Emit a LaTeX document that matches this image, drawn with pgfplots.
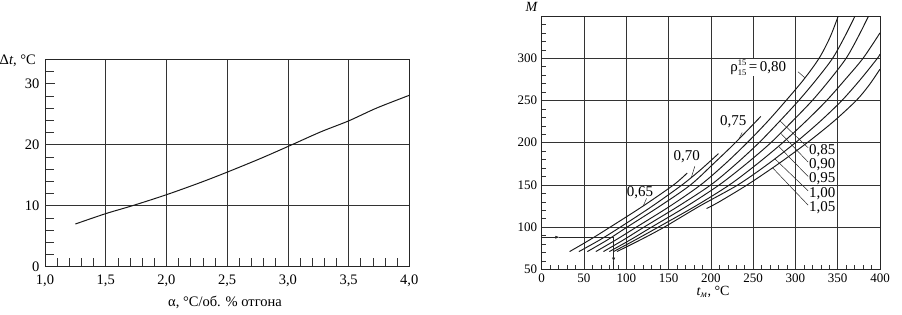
\documentclass[border=0pt]{standalone}
\usepackage{pgfplots}
\pgfplotsset{compat=1.18}
\usepackage{fontspec}
\setmainfont{Liberation Serif}
\usetikzlibrary{arrows.meta}
\begin{document}
\begin{tikzpicture}[x=1pt,y=1pt]
\useasboundingbox (0,0) rectangle (902,314);
% ---------------- left chart ----------------
\begin{axis}[
  at={(45pt,47.3pt)}, anchor=south west,
  scale only axis, width=364.3pt, height=207.4pt,
  xmin=1, xmax=4, ymin=0, ymax=34,
  xtick={1,1.5,2,2.5,3,3.5,4},
  xticklabels={{1,0},{1,5},{2,0},{2,5},{3,0},{3,5},{4,0}},
  ytick={0,10,20,30}, yticklabels={0,10,20,30},
  minor xtick={1.1,1.2,...,3.95},
  minor ytick={2,4,...,34},
  xmajorgrids,
  extra y ticks={10,20}, extra y tick labels={},
  extra y tick style={ymajorgrids=true, major tick length=0pt},
  tick pos=left, tick align=inside,
  major tick length=10pt, minor tick length=9pt,
  axis line style={black!85, line width=0.7pt},
  grid style={black!80, line width=0.6pt},
  every tick/.style={black!80, line width=0.6pt},
  ticklabel style={font=\fontsize{14.5}{16}\selectfont},
  xticklabel style={yshift=-5pt},
  yticklabel style={xshift=-2pt},
]
\addplot[black!90, line width=1pt, smooth] coordinates {
(1.25,7.0) (1.5,8.7) (1.72,10.0) (2.0,11.8) (2.28,13.8) (2.5,15.5)
(2.77,17.7) (3.0,19.7) (3.27,22.1) (3.5,23.9) (3.73,26.0) (4.0,28.1)};
\end{axis}
\node[anchor=east, font=\fontsize{14.5}{16}\selectfont, inner sep=0pt] at (36,253) {Δ\textit{t}, °C};
\node[font=\fontsize{14.5}{16}\selectfont] at (225,12) {α, °C/об. \% отгона};
% ---------------- right chart ----------------
\begin{axis}[
  at={(541.7pt,44.7pt)}, anchor=south west,
  scale only axis, width=338.3pt, height=253.3pt,
  xmin=0, xmax=400, ymin=50, ymax=350,
  xtick={0,50,...,400}, xticklabels={0,50,100,150,200,250,300,350,400},
  ytick={50,100,...,300}, yticklabels={50,100,150,200,250,300},
  minor xtick={10,20,...,390},
  minor ytick={60,70,...,340},
  xmajorgrids, ymajorgrids,
  tick pos=left, tick align=inside,
  major tick length=4pt, minor tick length=4pt,
  axis line style={black!85, line width=0.7pt},
  grid style={black!80, line width=0.6pt},
  every tick/.style={black!80, line width=0.5pt},
  ticklabel style={font=\fontsize{13}{15}\selectfont},
  xticklabel style={yshift=-1pt},
  yticklabel style={xshift=-1pt},
]
\pgfplotsset{cv/.style={black!90, line width=0.95pt, smooth}}
% 0,65
\addplot[cv] coordinates {(33,71) (57,85) (81,100) (120,125) (156,150) (172,164)};
% 0,70
\addplot[cv] coordinates {(44,71) (69,85) (93,100) (131,125) (166,150) (188,168) (209,187)};
% 0,75
\addplot[cv] coordinates {(54,71) (78,85) (101,100) (140,125) (176,150) (203,175) (229,200) (259,231)};
% 0,80
\addplot[cv] coordinates {(64,71) (88,85) (112,100) (152,125) (188,150) (217,175) (243,200) (267,225) (289,250) (310,275) (328,300) (341,325) (351,351)};
% 0,85
\addplot[cv] coordinates {(73,71) (97,85) (121,100) (162,125) (200,150) (230,175) (257,200) (281,225) (304,250) (325,275) (344,300) (358,325) (371,351)};
% 0,90
\addplot[cv] coordinates {(80,71) (105,85) (130,100) (172,125) (210,150) (242,175) (271,200) (296,225) (320,250) (341,275) (360,300) (374,325) (387,351)};
% 0,95
\addplot[cv] coordinates {(85,71) (111,85) (138,100) (182,125) (222,150) (255,175) (285,200) (312,225) (337,250) (359,275) (380,300) (400,330)};
% 1,00
\addplot[cv] coordinates {(89,71) (117,85) (145,100) (187,125) (232,150) (268,175) (300,200) (329,225) (355,250) (377,275) (397,300) (400,305)};
% 1,05
\addplot[cv] coordinates {(195,122) (210,130) (243,150) (280,175) (314,200) (345,225) (372,250) (387,268) (400,287)};
% leaders
\draw[black!85, line width=0.5pt] (303,284) -- (311,277);
\draw[black!85, line width=0.5pt] (237,212) -- (233,204);
\draw[black!85, line width=0.5pt] (181,172) -- (177,159);
\draw[black!85, line width=0.5pt] (124,134) -- (120,125);
\draw[black!85, line width=0.5pt] (281.7,225.8) -- (315,194);
\draw[black!85, line width=0.5pt] (282.3,211.4) -- (315,177);
\draw[black!85, line width=0.5pt] (280,195.8) -- (315,160);
\draw[black!85, line width=0.5pt] (275.5,181) -- (315,143);
\draw[black!85, line width=0.5pt] (273,170.2) -- (315,126);
\begin{scope}[font=\fontsize{15}{17}\selectfont]
\node[fill=white, inner sep=1pt] at (256,289) {ρ\raisebox{6pt}{\rlap{\fontsize{8.5}{9}\selectfont 15}}\raisebox{-4pt}{\fontsize{8.5}{9}\selectfont 15}\,=\,0,80};
\node[inner sep=0pt] at (226.6,225.3) {0,75};
\node[inner sep=0pt] at (171.4,183.7) {0,70};
\node[inner sep=0pt] at (116.2,140.3) {0,65};
\node[anchor=west, inner sep=0pt] at (316,191) {0,85};
\node[anchor=west, inner sep=0pt] at (316,174) {0,90};
\node[anchor=west, inner sep=0pt] at (316,157) {0,95};
\node[anchor=west, inner sep=0pt] at (316,140) {1,00};
\node[anchor=west, inner sep=0pt] at (316,123) {1,05};
\end{scope}
% example arrows
\draw[black!85, line width=0.5pt, -{Latex[length=4pt,width=3pt]}] (0,88) -- (21,88);
\draw[black!85, line width=0.5pt] (20,88) -- (85,88);
\draw[black!85, line width=0.5pt, -{Latex[length=4pt,width=3pt]}] (85,88) -- (85,59);
\draw[black!85, line width=0.5pt] (85,60) -- (85,50);
\end{axis}
\node[font=\fontsize{14}{16}\selectfont] at (531.7,306.7) {\textit{M}};
\node[font=\fontsize{14}{16}\selectfont] at (713,22) {\textit{t}\textsubscript{\textit{м}}, °C};
\end{tikzpicture}
\end{document}
